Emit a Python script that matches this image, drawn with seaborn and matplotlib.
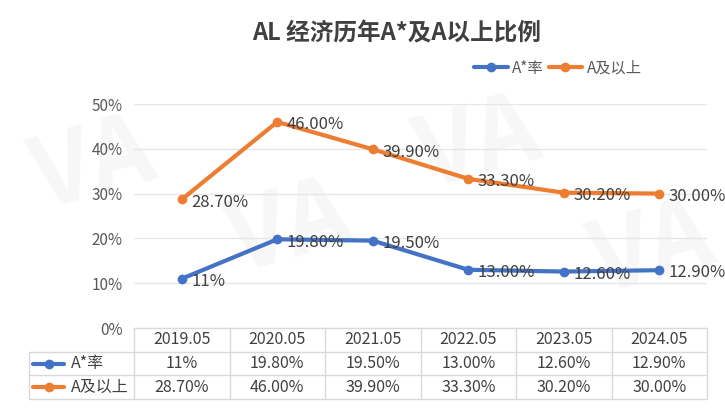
import seaborn as sns
import matplotlib.pyplot as plt
import pandas as pd

# chart data
years = ['2019.05', '2020.05', '2021.05', '2022.05', '2023.05', '2024.05']
a_star = [11.0, 19.8, 19.5, 13.0, 12.6, 12.9]
a_above = [28.7, 46.0, 39.9, 33.3, 30.2, 30.0]
a_star_labels = ['11%', '19.80%', '19.50%', '13.00%', '12.60%', '12.90%']
a_above_labels = ['28.70%', '46.00%', '39.90%', '33.30%', '30.20%', '30.00%']
series_names = ['A*率', 'A及以上']
colors = ['#4472C4', '#ED7D31']

sns.set_theme(style='white')
plt.rcParams['font.family'] = ['Noto Sans CJK SC', 'DejaVu Sans']

W, H = 725, 419
fig = plt.figure(figsize=(W / 100, H / 100), dpi=100)

# very faint watermark
for (x, y) in [(0.03, 0.45), (0.30, 0.30), (0.56, 0.50), (0.80, 0.25)]:
    fig.text(x, y, 'VA', fontsize=70, fontweight='bold', color='#f7f7f7',
             rotation=15, zorder=-5, ha='left', va='bottom')

L, R, T, B = 134, 707, 104, 328
ax = fig.add_axes([L / W, 1 - B / H, (R - L) / W, (B - T) / H])
ax.patch.set_alpha(0)

df = pd.DataFrame({
    'x': list(range(len(years))) * 2,
    'value': a_star + a_above,
    'series': [series_names[0]] * len(years) + [series_names[1]] * len(years),
})
sns.lineplot(data=df, x='x', y='value', hue='series', palette=colors,
             marker='o', markersize=7, markeredgewidth=0, linewidth=3,
             ax=ax, legend=False, zorder=3)

for vals, labs in [(a_star, a_star_labels), (a_above, a_above_labels)]:
    for i, (v, t) in enumerate(zip(vals, labs)):
        ax.annotate(t, (i, v), xytext=(7, -2), textcoords='offset points',
                    ha='left', va='center', fontsize=12, color='#404040', zorder=4)

ax.set_xlim(-0.5, len(years) - 0.5)
ax.set_ylim(0, 50)
ax.set_yticks(range(0, 51, 10))
ax.set_yticklabels([f'{t}%' for t in range(0, 51, 10)], fontsize=11, color='#595959')
ax.set_xticks([])
ax.set_xlabel('')
ax.set_ylabel('')
ax.tick_params(axis='y', length=0, pad=8)
ax.grid(axis='y', color='#e6e6e6', linewidth=1)
for s in ax.spines.values():
    s.set_visible(False)

# title
fig.text(397 / W, 1 - 33 / H, 'AL 经济历年A*及A以上比例', ha='center', va='center',
         fontsize=17, fontweight='bold', color='#404040')

# legend
handles = [plt.Line2D([], [], color=c, marker='o', markersize=7, markeredgewidth=0, linewidth=3)
           for c in colors]
fig.legend(handles, series_names, loc='center', bbox_to_anchor=(558 / W, 1 - 68 / H),
           ncol=2, frameon=False, fontsize=11, labelcolor='#595959',
           handlelength=2.2, handletextpad=0.3, columnspacing=0.3)

# data table below the plot
TL, TB = 29, 399
tab = fig.add_axes([TL / W, 1 - TB / H, (R - TL) / W, (TB - B) / H])
unit = (R - L) / len(years)
left_x = -0.5 - (L - TL) / unit
tab.set_xlim(left_x, len(years) - 0.5)
tab.set_ylim(3, 0)
tab.axis('off')
grid_c = '#d9d9d9'
tab.plot([-0.5, len(years) - 0.5], [0, 0], color=grid_c, lw=1, clip_on=False)
for r in [1, 2, 3]:
    tab.plot([left_x, len(years) - 0.5], [r, r], color=grid_c, lw=1, clip_on=False)
tab.plot([left_x, left_x], [1, 3], color=grid_c, lw=1, clip_on=False)
for i in range(len(years) + 1):
    tab.plot([i - 0.5, i - 0.5], [0, 3], color=grid_c, lw=1, clip_on=False)
for i, yr in enumerate(years):
    tab.text(i, 0.5, yr, ha='center', va='center', fontsize=11.5, color='#404040')
    tab.text(i, 1.5, a_star_labels[i], ha='center', va='center', fontsize=11.5, color='#404040')
    tab.text(i, 2.5, a_above_labels[i], ha='center', va='center', fontsize=11.5, color='#404040')
for r, (name, c) in enumerate(zip(series_names, colors)):
    x0 = left_x + 4 / unit
    x1 = left_x + 35 / unit
    tab.plot([x0, x1], [r + 1.5, r + 1.5], color=c, lw=3, clip_on=False)
    tab.plot([(x0 + x1) / 2], [r + 1.5], 'o', color=c, markersize=7, markeredgewidth=0, clip_on=False)
    tab.text(left_x + 42 / unit, r + 1.5, name, ha='left', va='center', fontsize=11.5, color='#404040')

plt.savefig('out.png', dpi=100)
